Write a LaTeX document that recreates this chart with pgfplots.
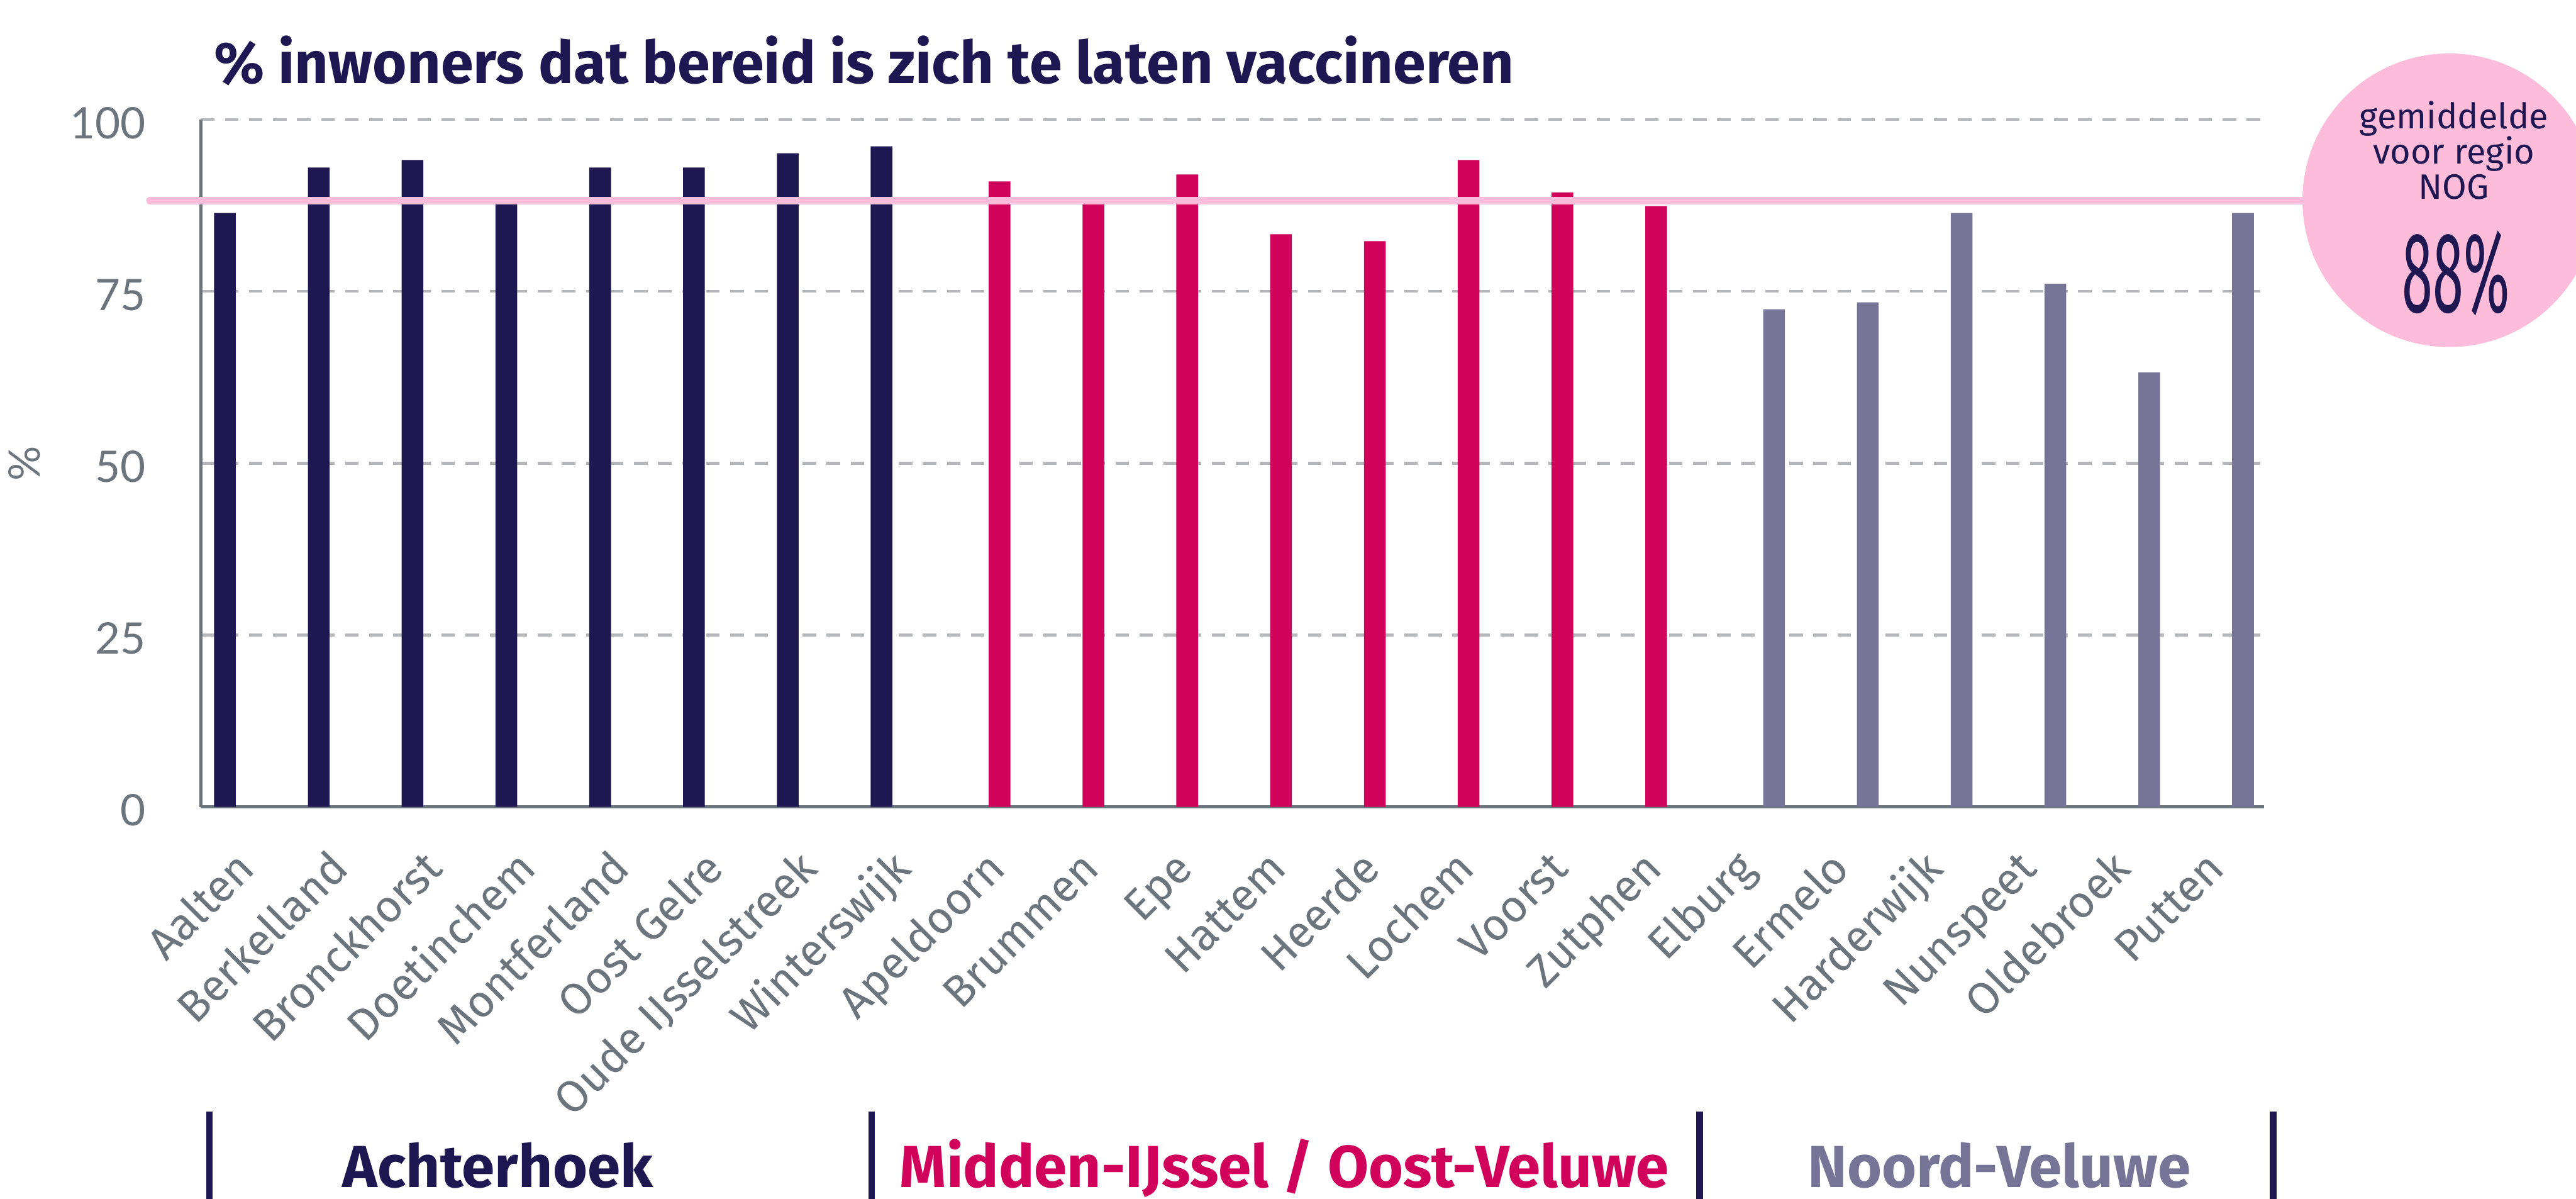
\documentclass[border=0pt]{standalone}
\usepackage{fontspec}
\setmainfont{Fira Sans}
\newfontfamily\latofont{Lato}
\usepackage{pgfplots}
\pgfplotsset{compat=1.18}
\definecolor{navy}{HTML}{1F1752}
\definecolor{magenta2}{HTML}{D0025C}
\definecolor{purp}{HTML}{767497}
\definecolor{pinkl}{HTML}{FEBCDB}
\definecolor{gridgray}{HTML}{B5B7BA}
\definecolor{axisgray}{HTML}{6C757D}
\begin{document}
\begin{tikzpicture}
\useasboundingbox (0,0) rectangle (438.8pt,-204.1pt);
\clip (0,0) rectangle (438.8pt,-204.1pt);
\begin{axis}[
  at={(34.2pt,-137.4pt)}, anchor=south west,
  scale only axis, width=351.5pt, height=117.05pt,
  xmin=-0.5, xmax=21.5, ymin=0, ymax=100,
  axis x line*=bottom, axis y line*=left,
  axis line style={-, axisgray, line width=0.5pt},
  ytick={0,25,50,75,100},
  ymajorgrids,
  grid style={gridgray, line width=0.5pt, dash pattern=on 2.3pt off 1.8pt},
  major tick length=0pt,
  xtick={0,...,21},
  xticklabels={Aalten,Berkelland,Bronckhorst,Doetinchem,Montferland,Oost Gelre,Oude IJsselstreek,Winterswijk,Apeldoorn,Brummen,Epe,Hattem,Heerde,Lochem,Voorst,Zutphen,Elburg,Ermelo,Harderwijk,Nunspeet,Oldebroek,Putten},
  xticklabel style={font=\fontsize{7.6}{9}\selectfont, text=axisgray, inner sep=0pt, xshift=1.7pt, yshift=-10.8pt, rotate=45, anchor=base east},
  yticklabel style={font=\latofont\fontsize{7.4}{9}\selectfont, text=axisgray, inner sep=0pt, xshift=-9.2pt, yshift=-0.6pt, anchor=east},
  /pgf/number format/assume math mode=true,
  clip=false,
]
% Achterhoek
\addplot[ybar, bar width=3.7pt, bar shift=-3.87pt, fill=navy, draw=none] coordinates {
 (0,86.4) (1,93.0) (2,94.1) (3,88.0) (4,93.0) (5,93.0) (6,95.1) (7,96.1)};
% Midden-IJssel / Oost-Veluwe
\addplot[ybar, bar width=3.7pt, bar shift=0.27pt, fill=magenta2, draw=none] coordinates {
 (8,91.0) (9,88.0) (10,92.0) (11,83.3) (12,82.3) (13,94.1) (14,89.4) (15,87.4)};
% Noord-Veluwe
\addplot[ybar, bar width=3.7pt, bar shift=4.36pt, fill=purp, draw=none] coordinates {
 (16,72.4) (17,73.4) (18,86.4) (19,76.1) (20,63.2) (21,86.4)};
% regional average
\addplot[pinkl, line width=1.2pt, line cap=round, forget plot] coordinates {(-1.045,88.2) (23,88.2)};
\end{axis}
\fill[pinkl] (417.2pt,-34.1pt) circle (25pt);
\node[anchor=base, inner sep=0pt, text=navy, font=\fontsize{6}{6}\selectfont] at (418.0pt,-21.9pt) {gemiddelde};
\node[anchor=base, inner sep=0pt, text=navy, font=\fontsize{6}{6}\selectfont] at (418.0pt,-27.9pt) {voor regio};
\node[anchor=base, inner sep=0pt, text=navy, font=\fontsize{6}{6}\selectfont] at (418.0pt,-33.9pt) {NOG};
\node[anchor=base, inner sep=0pt, text=navy] at (418.35pt,-53.2pt) {\resizebox{18.3pt}{13.9pt}{88\%}};
\node[anchor=base west, inner sep=0pt, text=navy, font=\bfseries\fontsize{10}{12}\selectfont] at (36.25pt,-14.15pt) {\% inwoners dat bereid is zich te laten vaccineren};
\node[rotate=90, inner sep=0pt, text=axisgray, font=\latofont\fontsize{7.4}{9}\selectfont] at (4.2pt,-78.9pt) {\%};
\node[anchor=base, inner sep=0pt, text=navy, font=\bfseries\fontsize{10.1}{12}\selectfont] at (84.8pt,-202.2pt) {Achterhoek};
\node[anchor=base, inner sep=0pt, text=magenta2, font=\bfseries\fontsize{10.1}{12}\selectfont] at (218.8pt,-202.2pt) {Midden-IJssel / Oost-Veluwe};
\node[anchor=base, inner sep=0pt, text=purp, font=\bfseries\fontsize{10.1}{12}\selectfont] at (340.55pt,-202.2pt) {Noord-Veluwe};
\foreach \sx in {35.7,148.5,289.5,387.2}{
  \draw[navy, line width=1.1pt] (\sx pt,-189.3pt) -- (\sx pt,-210pt);
}
\end{tikzpicture}
\end{document}
